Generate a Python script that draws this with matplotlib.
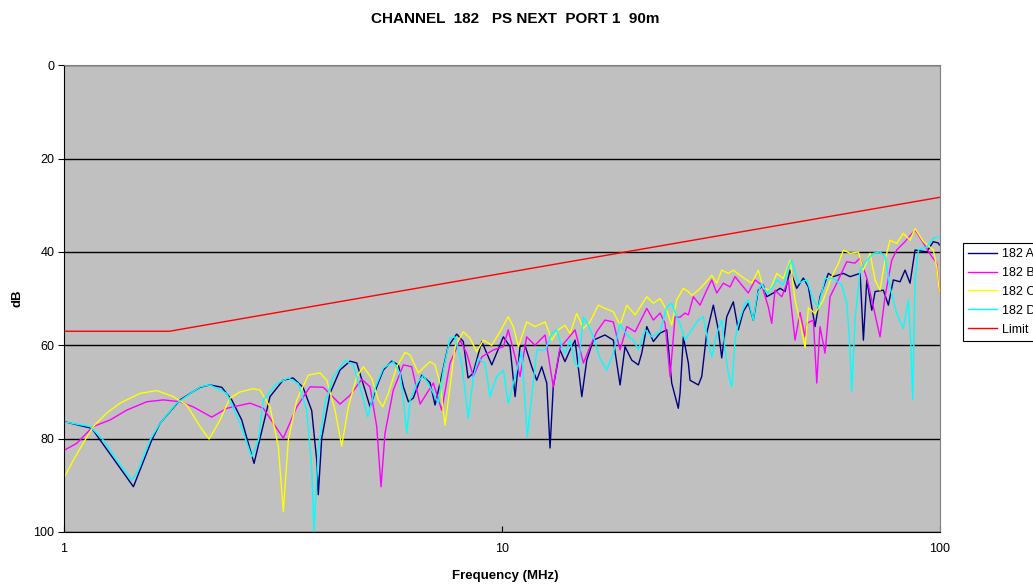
import matplotlib.pyplot as plt

# PS NEXT, channel 182, port 1 (MHz, dB)
freq_a = [1.005, 1.157, 1.44, 1.586, 1.657, 1.84, 2.044, 2.154, 2.291, 2.415, 2.545, 2.715,
          2.953, 3.162, 3.333, 3.513, 3.677, 3.774, 3.806, 3.875, 4.048, 4.267, 4.498, 4.659,
          4.866, 4.996, 5.175, 5.358, 5.60, 5.799, 5.954, 6.113, 6.273, 6.557, 6.848, 7.031,
          7.218, 7.527, 7.88, 8.158, 8.364, 8.586, 8.989, 9.474, 10.07, 10.43, 10.71, 10.99,
          11.28, 11.69, 12.0, 12.32, 12.65, 12.87, 13.09, 13.56, 13.92, 14.30, 14.68, 15.21,
          15.61, 16.16, 17.18, 17.95, 18.60, 19.09, 19.78, 20.48, 20.84, 21.40, 22.16, 22.95,
          23.77, 24.40, 25.26, 25.49, 25.94, 26.63, 26.87, 28.07, 28.57, 29.33, 30.37, 31.18,
          31.74, 32.58, 33.73, 34.63, 35.55, 36.50, 37.47, 38.47, 39.50, 40.20, 41.63, 43.13,
          44.28, 45.45, 47.08, 48.74, 50.05, 51.84, 53.21, 55.59, 57.07, 60.16, 62.31, 65.70,
          66.84, 68.05, 69.86, 71.07, 74.23, 76.21, 78.23, 81.04, 83.20, 85.41, 87.69, 93.26,
          96.54, 99.11, 99.63]
db_a = [76.4, 77.8, 90.3, 80.3, 76.7, 71.7, 69.0, 68.5, 69.0, 71.7, 76.0, 85.3,
        71.0, 67.5, 67.0, 69.0, 74.0, 84.6, 92.0, 80.0, 70.3, 65.3, 63.4, 63.8,
        69.6, 73.2, 68.9, 65.3, 63.4, 64.2, 68.9, 72.1, 71.3, 66.4, 68.0, 72.8,
        68.1, 60.3, 57.6, 59.2, 67.0, 66.0, 59.2, 64.2, 58.2, 60.3, 71.0, 60.3,
        60.0, 64.6, 67.5, 64.6, 68.1, 82.0, 68.9, 61.0, 63.5, 61.0, 58.9, 71.0,
        63.2, 58.9, 57.8, 58.9, 68.5, 60.3, 63.2, 64.2, 61.7, 56.0, 59.2, 57.4,
        56.7, 68.1, 73.5, 70.3, 58.2, 63.8, 67.5, 68.5, 66.7, 57.4, 51.4, 56.7,
        62.7, 53.9, 50.7, 56.7, 52.8, 51.0, 54.6, 48.2, 47.1, 49.6, 48.8, 47.8,
        48.5, 43.9, 47.8, 45.6, 47.5, 56.0, 49.6, 44.6, 45.3, 44.6, 45.3, 44.6,
        58.9, 46.0, 52.5, 48.5, 48.2, 51.4, 46.0, 46.4, 43.9, 46.7, 39.6, 40.0,
        37.8, 38.1, 38.5]

freq_b = [1.005, 1.069, 1.166, 1.274, 1.39, 1.545, 1.686, 1.84, 1.973, 2.174, 2.352, 2.659,
          2.851, 3.167, 3.399, 3.644, 3.908, 4.267, 4.498, 4.783, 4.996, 5.175, 5.293, 5.406,
          5.646, 5.954, 6.22, 6.499, 6.969, 7.283, 7.607, 8.018, 8.306, 8.60, 8.989, 9.553,
          10.07, 10.33, 10.71, 10.99, 11.38, 11.89, 12.54, 13.09, 13.56, 14.05, 14.68, 15.34,
          15.88, 16.45, 17.18, 17.95, 18.60, 19.27, 20.13, 21.40, 22.16, 22.95, 23.56, 24.19,
          24.83, 25.49, 26.17, 26.63, 27.34, 28.32, 29.33, 30.12, 30.92, 32.01, 33.15, 34.04,
          35.26, 36.50, 37.81, 39.16, 40.55, 41.28, 42.00, 43.52, 45.05, 46.66, 47.91, 49.19,
          49.63, 51.38, 52.31, 53.21, 54.63, 56.10, 58.11, 61.24, 63.96, 65.70, 68.05, 70.44,
          72.95, 74.88, 77.57, 79.63, 83.20, 87.69, 91.61, 95.74, 98.29, 99.63]
db_b = [82.4, 81.0, 77.4, 76.0, 73.9, 72.1, 71.7, 72.1, 73.2, 75.4, 73.5, 72.4,
        73.5, 79.9, 73.2, 68.9, 69.0, 72.6, 70.7, 67.3, 68.9, 77.4, 90.3, 78.8,
        69.6, 64.2, 64.6, 72.6, 68.1, 73.9, 63.8, 58.9, 61.7, 66.7, 62.5, 61.0,
        60.3, 56.7, 62.5, 66.7, 58.2, 60.0, 57.8, 68.9, 60.5, 58.9, 56.7, 63.8,
        60.3, 57.1, 54.6, 55.0, 61.0, 56.0, 57.1, 52.1, 54.6, 53.1, 55.3, 66.7,
        53.9, 54.0, 53.1, 53.5, 49.6, 51.4, 48.2, 46.0, 48.8, 46.7, 47.5, 45.3,
        47.1, 48.8, 46.0, 47.1, 51.8, 55.3, 48.2, 49.6, 46.0, 58.9, 53.0, 58.2,
        55.3, 54.6, 68.1, 56.0, 61.7, 49.6, 46.7, 42.1, 42.4, 41.3, 45.6, 51.8,
        58.2, 49.6, 41.8, 39.6, 37.8, 35.3, 38.1, 41.0, 42.4, 48.5]

freq_c = [1.0, 1.05, 1.117, 1.166, 1.252, 1.342, 1.491, 1.628, 1.776, 1.906, 2.044, 2.143,
          2.271, 2.393, 2.522, 2.705, 2.802, 2.953, 3.085, 3.167, 3.251, 3.399, 3.612, 3.84,
          3.979, 4.157, 4.305, 4.458, 4.659, 4.823, 5.041, 5.219, 5.34, 5.501, 5.75, 6.007,
          6.166, 6.441, 6.671, 6.848, 7.031, 7.218, 7.41, 7.607, 7.809, 8.158, 8.451, 8.754,
          9.064, 9.474, 9.895, 10.33, 10.61, 10.90, 11.38, 11.89, 12.54, 12.99, 13.44, 13.92,
          14.30, 14.81, 15.34, 15.88, 16.59, 17.18, 17.95, 18.60, 19.27, 20.13, 21.40, 22.16,
          22.95, 23.77, 24.40, 25.05, 25.94, 26.63, 27.11, 28.07, 29.07, 30.12, 30.92, 31.74,
          32.86, 33.73, 34.94, 36.19, 37.16, 38.47, 39.50, 40.91, 42.38, 43.88, 45.45, 46.66,
          47.91, 49.19, 50.05, 51.84, 54.15, 56.59, 58.60, 60.16, 62.31, 65.11, 66.84, 69.23,
          71.07, 72.95, 74.88, 76.88, 79.63, 82.46, 85.41, 87.69, 91.61, 96.54, 98.29, 99.63]
db_c = [88.4, 84.6, 80.3, 77.4, 74.5, 72.4, 70.3, 69.7, 71.0, 72.8, 77.4, 80.1,
        76.0, 71.3, 70.0, 69.3, 69.6, 73.2, 81.7, 95.6, 80.3, 71.7, 66.4, 65.9,
        67.5, 73.9, 81.6, 73.2, 66.7, 64.6, 67.1, 71.7, 73.2, 70.3, 64.6, 61.5,
        62.1, 65.9, 64.5, 63.5, 64.2, 68.1, 77.1, 68.9, 60.3, 57.1, 58.5, 61.4,
        58.9, 60.0, 57.1, 53.9, 56.0, 60.3, 55.0, 56.0, 55.0, 58.9, 56.7, 55.7,
        57.5, 53.2, 56.4, 55.0, 51.4, 52.1, 52.8, 55.7, 51.4, 53.5, 49.6, 51.0,
        50.0, 52.5, 55.7, 50.3, 47.8, 48.5, 49.3, 48.2, 46.7, 45.0, 46.7, 43.9,
        44.6, 43.9, 45.0, 46.0, 46.7, 43.9, 47.8, 48.2, 44.6, 45.7, 41.8, 50.3,
        55.0, 60.5, 52.0, 53.2, 50.3, 45.3, 42.5, 39.6, 40.3, 40.0, 43.9, 40.3,
        46.0, 48.2, 41.8, 37.5, 38.2, 36.0, 37.5, 35.0, 37.8, 39.6, 43.2, 48.5]

freq_d = [1.0, 1.146, 1.229, 1.319, 1.428, 1.478, 1.572, 1.657, 1.808, 2.044, 2.154, 2.352,
          2.522, 2.683, 2.777, 2.851, 3.059, 3.251, 3.427, 3.582, 3.677, 3.721, 3.806, 3.943,
          4.12, 4.381, 4.576, 4.783, 4.937, 5.129, 5.358, 5.646, 5.851, 5.976, 6.061, 6.166,
          6.387, 6.612, 6.91, 7.155, 7.345, 7.607, 7.809, 8.091, 8.377, 8.60, 8.829, 9.146,
          9.389, 9.725, 10.07, 10.33, 10.71, 11.09, 11.42, 11.69, 12.0, 12.54, 12.99, 13.33,
          13.69, 13.92, 14.30, 14.68, 14.94, 15.34, 15.74, 16.16, 16.74, 17.34, 17.95, 18.60,
          19.27, 19.95, 20.48, 21.21, 21.97, 22.95, 23.77, 24.40, 25.05, 25.49, 26.17, 27.11,
          28.07, 28.81, 29.58, 30.12, 30.92, 31.74, 32.29, 32.86, 33.45, 34.04, 34.63, 35.87,
          36.50, 37.47, 38.15, 39.16, 40.20, 41.28, 42.38, 43.88, 45.05, 45.86, 47.48, 49.63,
          51.38, 52.74, 54.63, 57.07, 59.66, 61.24, 62.08, 62.87, 63.96, 65.70, 68.05, 70.44,
          72.95, 74.88, 76.88, 79.63, 82.46, 84.65, 85.73, 86.64, 87.69, 89.24, 93.26, 96.54,
          99.11]
db_d = [76.4, 77.4, 80.3, 84.6, 88.9, 86.7, 80.3, 76.7, 72.4, 68.9, 68.5, 70.3,
        76.7, 83.9, 80.3, 71.7, 68.2, 67.0, 68.2, 73.9, 86.0, 99.9, 82.4, 72.4,
        66.7, 63.3, 64.2, 70.3, 75.3, 69.2, 64.9, 63.5, 66.0, 73.2, 78.9, 71.7,
        68.2, 66.4, 69.6, 72.4, 65.3, 58.5, 58.2, 63.9, 75.7, 66.7, 62.8, 63.9,
        71.0, 66.7, 65.3, 72.4, 66.7, 61.4, 79.6, 71.0, 61.0, 61.0, 57.5, 56.7,
        60.3, 61.7, 58.9, 63.9, 64.6, 53.9, 55.7, 58.2, 62.8, 65.3, 61.7, 55.4,
        57.8, 58.9, 61.0, 56.7, 58.2, 57.1, 51.8, 51.0, 53.9, 55.4, 58.9, 56.7,
        54.6, 53.9, 59.6, 62.5, 57.5, 54.6, 61.0, 66.0, 68.9, 58.9, 55.4, 51.0,
        50.3, 54.6, 49.6, 46.7, 48.9, 47.8, 46.0, 47.1, 43.2, 41.8, 46.7, 46.0,
        50.3, 51.8, 45.7, 45.7, 47.1, 51.0, 58.2, 69.9, 54.6, 43.9, 41.8, 40.3,
        40.0, 41.0, 47.5, 53.2, 56.4, 50.3, 59.6, 71.7, 46.0, 39.6, 38.9, 37.1,
        36.8]

freq_limit = [1.0, 1.74, 100.0]
db_limit = [57.0, 57.0, 28.3]

series = [
    ('182 A', freq_a, db_a, '#000080'),
    ('182 B', freq_b, db_b, '#FF00FF'),
    ('182 C', freq_c, db_c, '#FFFF00'),
    ('182 D', freq_d, db_d, '#00FFFF'),
    ('Limit', freq_limit, db_limit, '#FF0000'),
]

plt.rcParams['font.family'] = ['Liberation Sans', 'DejaVu Sans']

fig = plt.figure(figsize=(10.33, 5.85), dpi=100)
ax = fig.add_axes([0.062, 0.0906, 0.848, 0.798])
ax.set_facecolor('#C0C0C0')

for name, f, d, col in series:
    ax.plot(f, d, color=col, lw=1.0, label=name)

ax.set_xscale('log')
ax.set_xlim(1, 100)
ax.set_ylim(100, 0)
ax.set_yticks([0, 20, 40, 60, 80, 100])
ax.set_xticks([1, 10, 100])
ax.set_xticklabels(['1', '10', '100'])
ax.minorticks_off()
ax.yaxis.grid(True, color='black', lw=1.0)
ax.set_axisbelow(True)

for s in ['top', 'right']:
    ax.spines[s].set_color('#808080')
for s in ['left', 'bottom']:
    ax.spines[s].set_color('black')

ax.tick_params(axis='y', direction='out', length=4, labelsize=9, pad=3)
ax.tick_params(axis='x', direction='in', length=4, labelsize=9, pad=8)

fig.text(0.499, 0.968, 'CHANNEL  182   PS NEXT  PORT 1  90m', ha='center', va='center',
         fontsize=11, fontweight='bold')
fig.text(0.489, 0.015, 'Frequency (MHz)', ha='center', va='center', fontsize=9.5, fontweight='bold')
fig.text(0.017, 0.49, 'dB', ha='center', va='center', rotation=90, fontsize=9.5, fontweight='bold')

# legend sits partly off the right edge, as in the original export
leg = fig.legend(loc='upper left', bbox_to_anchor=(963 / 1033, 1 - 243 / 585), fontsize=9,
                 frameon=True, fancybox=False, framealpha=1, edgecolor='black',
                 handlelength=2.3, handletextpad=0.4, labelspacing=0.55, borderpad=0.4,
                 borderaxespad=0)
leg.get_frame().set_linewidth(0.8)

fig.savefig('out.png', dpi=100, facecolor='white')
